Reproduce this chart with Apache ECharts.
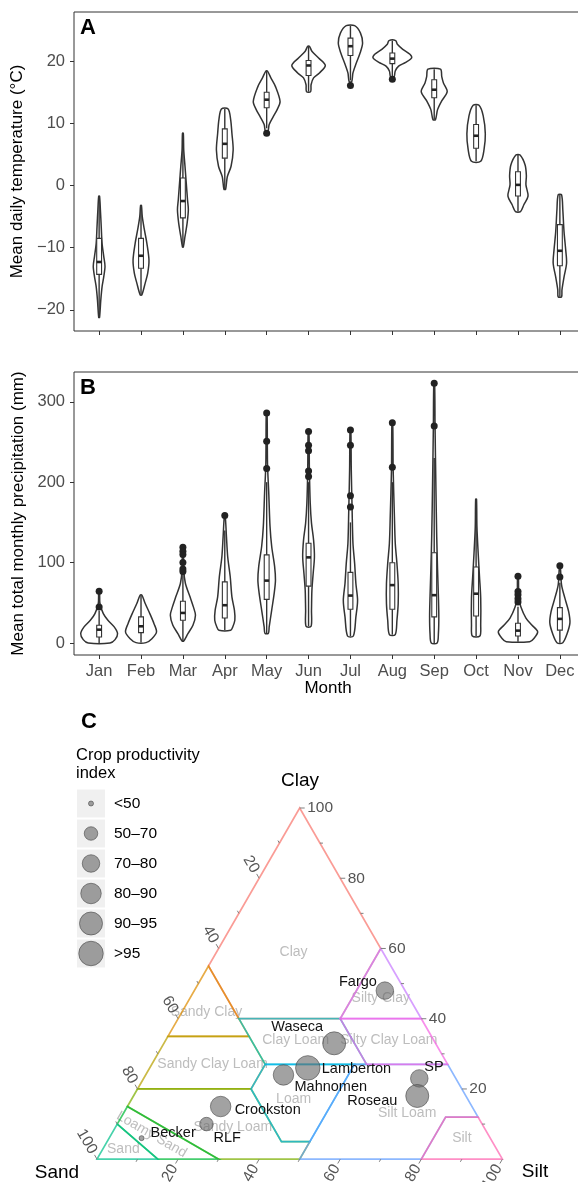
<!DOCTYPE html>
<html>
<head>
<meta charset="utf-8">
<script src="https://cdn.jsdelivr.net/npm/echarts@6/dist/echarts.min.js"></script>
<style>
  html, body { margin: 0; padding: 0; background: #fff; }
  #main { width: 578px; height: 1182px; }
</style>
</head>
<body>
<div id="main"></div>
<script>
// ---------- data ----------
const months = ['Jan', 'Feb', 'Mar', 'Apr', 'May', 'Jun', 'Jul', 'Aug', 'Sep', 'Oct', 'Nov', 'Dec'];

// A: violin outline (levels top -> bottom, half widths in month units)
const tempLevels = [
  [-1.7, -3.9, -6.6, -9.3, -11.4, -13.0, -14.7, -16.3, -18.4, -21.2],
  [-3.2, -5.0, -7.1, -9.3, -12.0, -14.1, -15.7, -17.6],
  [8.4, 5.7, 3.1, 0.4, -2.3, -3.9, -6.1, -8.2, -9.9],
  [12.3, 10.6, 8.4, 5.7, 3.1, 1.4, -0.6],
  [18.4, 17.3, 15.9, 13.5, 12.2, 11.1, 9.8, 8.7],
  [22.4, 21.6, 20.5, 19.3, 18.1, 17.3, 16.2, 15.1],
  [25.7, 24.5, 22.9, 21.3, 19.7, 18.1, 16.7],
  [23.3, 22.7, 21.9, 21.1, 20.5, 19.8, 19.2, 18.4, 17.4],
  [18.7, 17.5, 16.5, 15.1, 13.5, 12.2, 10.6],
  [12.9, 11.2, 8.3, 5.8, 3.9],
  [4.9, 3.3, 1.6, 0.1, -1.7, -3.1, -4.2],
  [-1.5, -3.9, -7.5, -10.4, -12.5, -14.7, -16.8, -17.9]
];
const tempWidths = [
  [0.01, 0.03, 0.05, 0.07, 0.11, 0.14, 0.11, 0.07, 0.04, 0.01],
  [0.01, 0.03, 0.08, 0.14, 0.19, 0.16, 0.10, 0.02],
  [0.01, 0.02, 0.05, 0.08, 0.11, 0.13, 0.10, 0.05, 0.01],
  [0.08, 0.14, 0.17, 0.20, 0.15, 0.06, 0.02],
  [0.02, 0.10, 0.21, 0.32, 0.25, 0.16, 0.06, 0.03],
  [0.02, 0.08, 0.24, 0.40, 0.26, 0.12, 0.06, 0.05],
  [0.10, 0.24, 0.29, 0.23, 0.14, 0.06, 0.03],
  [0.08, 0.12, 0.25, 0.42, 0.46, 0.32, 0.15, 0.07, 0.04],
  [0.15, 0.18, 0.22, 0.31, 0.17, 0.08, 0.03],
  [0.07, 0.17, 0.22, 0.19, 0.11],
  [0.05, 0.17, 0.20, 0.19, 0.24, 0.14, 0.06],
  [0.04, 0.07, 0.10, 0.14, 0.16, 0.10, 0.05, 0.04]
];
// [lower whisker, q1, median, q3, upper whisker]
const tempBoxes = [
  [-21.2, -14.3, -12.3, -8.5, -1.7],
  [-17.6, -13.3, -11.3, -8.5, -3.2],
  [-9.9, -5.2, -2.5, 1.2, 8.4],
  [-0.6, 4.4, 6.7, 9.1, 12.3],
  [9.2, 12.5, 13.8, 15.0, 18.4],
  [15.1, 17.7, 19.3, 20.1, 22.4],
  [16.9, 20.9, 22.4, 23.7, 25.7],
  [17.5, 19.6, 20.4, 21.3, 23.3],
  [10.6, 14.1, 15.4, 17.0, 18.7],
  [3.9, 6.0, 8.0, 9.8, 12.9],
  [-4.2, -1.7, 0.1, 2.2, 4.9],
  [-17.9, -12.9, -10.5, -6.3, -1.5]
];
const tempOutliers = [[5, 8.4], [7, 16.1], [8, 17.1]];

// B: precipitation
const precLevels = [
  [64.5, 49.1, 36.6, 28.3, 20.0, 11.7, 4.2, 0],
  [59.5, 49.1, 36.6, 24.1, 13.7, 5.4, 0.5],
  [118.6, 90.7, 74, 57.4, 44.9, 34.5, 22, 11.7, 2.5],
  [158.5, 132, 107, 82.4, 57.4, 40.8, 28.3, 20, 15.8],
  [286, 223, 186, 145, 120, 95, 78, 62, 41, 20, 12],
  [263, 215, 174, 149, 128, 107, 86.5, 65.7, 40.8, 20.8],
  [264.6, 215.5, 165.6, 124, 99, 74, 53, 32.5, 8.7],
  [273.8, 215.5, 157, 124, 99, 74, 49, 28.3, 10.4],
  [323, 270, 195, 132, 90.7, 57.4, 32.5, 11.7, 0],
  [179, 144.7, 111.3, 83.5, 55.8, 22.4, 8.7],
  [83, 56, 44.8, 31, 22.4, 14, 5.7, 1.7],
  [95.9, 72.4, 55.8, 39, 25, 11.2, 0.4]
];
const precWidths = [
  [0.01, 0.02, 0.10, 0.21, 0.36, 0.44, 0.38, 0.26],
  [0.02, 0.10, 0.21, 0.31, 0.37, 0.26, 0.12],
  [0.01, 0.02, 0.06, 0.17, 0.25, 0.30, 0.24, 0.12, 0.02],
  [0.01, 0.04, 0.07, 0.13, 0.17, 0.23, 0.24, 0.19, 0.14],
  [0.01, 0.02, 0.05, 0.08, 0.12, 0.19, 0.21, 0.18, 0.12, 0.06, 0.04],
  [0.01, 0.02, 0.04, 0.07, 0.12, 0.14, 0.11, 0.08, 0.07, 0.06],
  [0.01, 0.02, 0.04, 0.06, 0.10, 0.13, 0.17, 0.13, 0.07],
  [0.01, 0.02, 0.05, 0.07, 0.11, 0.14, 0.14, 0.11, 0.07],
  [0.01, 0.02, 0.04, 0.06, 0.08, 0.10, 0.11, 0.10, 0.07],
  [0.01, 0.02, 0.05, 0.08, 0.11, 0.11, 0.09],
  [0.01, 0.02, 0.07, 0.19, 0.33, 0.47, 0.38, 0.28],
  [0.01, 0.04, 0.12, 0.21, 0.24, 0.17, 0.07]
];
const precBoxes = [
  [0, 7.5, 16.6, 22, 40],
  [0.5, 12.9, 20.8, 32.5, 59.5],
  [2.5, 28.3, 37.4, 52, 86],
  [15.8, 31.2, 47, 76, 140],
  [12, 54.3, 77.6, 109.6, 200],
  [20.8, 70.7, 106.5, 124, 200],
  [8.7, 42, 59, 87.8, 150],
  [10.4, 42, 72, 99.9, 200],
  [0, 32.5, 59.5, 112.3, 230],
  [8.7, 33.6, 61.3, 94.6, 179],
  [1.7, 8.7, 15.4, 24.5, 45],
  [0.4, 16, 30, 44, 75]
];
const precOutliers = [
  [1, 64.5], [1, 44.9],
  [3, 119], [3, 114], [3, 110], [3, 100], [3, 92], [3, 89],
  [4, 158.5],
  [5, 286], [5, 251], [5, 217],
  [6, 263], [6, 246], [6, 239], [6, 214], [6, 207],
  [7, 265], [7, 246], [7, 183], [7, 169],
  [8, 274], [8, 218.5],
  [9, 323], [9, 270],
  [11, 83], [11, 64], [11, 60], [11, 55], [11, 51],
  [12, 96], [12, 82]
];
const tempTicks = [-20, -10, 0, 10, 20];
const precTicks = [0, 100, 200, 300];

// C: soil texture classes, vertices as [sand, silt, clay] %
const soilClasses = ['Clay', 'Sandy Clay', 'Sandy Clay Loam', 'Sandy Loam', 'Loamy Sand', 'Sand',
  'Clay Loam', 'Loam', 'Silt Loam', 'Silty Clay', 'Silty Clay Loam', 'Silt'];
const soilPolygons = [
  [[45, 15, 40], [20, 40, 40], [0, 40, 60], [0, 0, 100], [45, 0, 55]],
  [[65, 0, 35], [45, 20, 35], [45, 0, 55]],
  [[80, 0, 20], [52, 28, 20], [45, 28, 27], [45, 20, 35], [65, 0, 35]],
  [[85, 0, 15], [70, 30, 0], [50, 50, 0], [45, 50, 5], [52, 43, 5], [52, 28, 20], [80, 0, 20]],
  [[90, 0, 10], [85, 15, 0], [70, 30, 0], [85, 0, 15]],
  [[100, 0, 0], [85, 15, 0], [90, 0, 10]],
  [[45, 28, 27], [20, 53, 27], [20, 40, 40], [45, 15, 40]],
  [[45, 50, 5], [52, 43, 5], [52, 28, 20], [45, 28, 27], [23, 50, 27]],
  [[50, 50, 0], [20, 80, 0], [8, 80, 12], [0, 88, 12], [0, 73, 27], [23, 50, 27], [45, 50, 5]],
  [[20, 40, 40], [0, 60, 40], [0, 40, 60]],
  [[20, 53, 27], [0, 73, 27], [0, 60, 40], [20, 40, 40]],
  [[20, 80, 0], [0, 100, 0], [0, 88, 12], [8, 80, 12]]
];
const soilLabelPos = [
  [22, 19, 59], [52, 6, 42], [58, 15, 27], [62, 29, 9], [83, 10, 7], [92, 5, 3],
  [34, 32, 34], [43, 40, 17], [17, 70, 13], [7, 47, 46], [11, 55, 34], [7, 87, 6]
];
const ternTicks = [10, 20, 30, 40, 50, 60, 70, 80, 90, 100];
const ternLabels = [20, 40, 60, 80, 100];

const cpiClasses = ['<50', '50–70', '70–80', '80–90', '90–95', '>95'];
const sites = ['Fargo', 'Waseca', 'Lamberton', 'Mahnomen', 'SP', 'Roseau', 'Crookston', 'RLF', 'Becker'];
const siteSand = [5, 25, 35, 42, 9, 12, 62, 68, 86];
const siteSilt = [47, 42, 39, 34, 68, 70, 23, 22, 8];
const siteClay = [48, 33, 26, 24, 23, 18, 15, 10, 6];
const siteCpi = ['70–80', '90–95', '>95', '80–90', '70–80', '90–95', '80–90', '50–70', '<50'];

// ---------- styles ----------
const FONT = "'Liberation Sans', Arial, Helvetica, sans-serif";
const soilColors = ['#F8766D', '#DE8C00', '#B79F00', '#7CAE00', '#00BA38', '#00C08B',
  '#00BFC4', '#00B4F0', '#619CFF', '#C77CFF', '#F564E3', '#FF64B0'];
const cpiSizes = [5, 13.5, 17.5, 20.5, 23, 24.5];
const regionRotation = { 'Loamy Sand': -30 };
// label anchor relative to the point: [align, dx, dy]
const siteLabelStyle = [
  ['right', -8, -9], ['right', -11, -16], ['left', 14, 1], ['left', 11, 12], ['left', 5, -11],
  ['right', -20, 5], ['left', 14, 3], ['left', 7, 14], ['left', 9, -5]
];
const pointFill = 'rgba(105,105,105,0.62)';
const pointEdge = 'rgba(70,70,70,0.6)';

const toPlane = t => [t[1] + t[2] / 2, t[2]];
const minus = v => (v < 0 ? '\u2212' + Math.abs(v) : String(v));

function violinRenderer(levels, widths, boxes) {
  return function (params, api) {
    const k = api.value(0) - 1;
    const m = k + 1;
    const lv = levels[k], wd = widths[k], bx = boxes[k];
    const pts = [];
    for (let i = 0; i < lv.length; i++) pts.push(api.coord([m + wd[i], lv[i]]));
    for (let i = lv.length - 1; i >= 0; i--) pts.push(api.coord([m - wd[i], lv[i]]));
    const bw = 0.058;
    const c = (x, y) => api.coord([x, y]);
    const lo = c(m, bx[0]), q1 = c(m, bx[1]), q3 = c(m, bx[3]), hi = c(m, bx[4]);
    const bl = c(m - bw, bx[3]), br = c(m + bw, bx[1]);
    const ml = c(m - bw, bx[2]), mr = c(m + bw, bx[2]);
    const line = { stroke: '#333', lineWidth: 1.4 };
    return {
      type: 'group',
      children: [
        { type: 'polygon', shape: { points: pts, smooth: 0.3 }, style: { fill: '#fff', stroke: '#333', lineWidth: 1.5 } },
        { type: 'line', shape: { x1: lo[0], y1: lo[1], x2: q1[0], y2: q1[1] }, style: line },
        { type: 'line', shape: { x1: q3[0], y1: q3[1], x2: hi[0], y2: hi[1] }, style: line },
        { type: 'rect', shape: { x: bl[0], y: bl[1], width: br[0] - bl[0], height: br[1] - bl[1] },
          style: { fill: '#fff', stroke: '#333', lineWidth: 1.1 } },
        { type: 'line', shape: { x1: ml[0], y1: ml[1], x2: mr[0], y2: mr[1] }, style: { stroke: '#222', lineWidth: 2.6 } }
      ]
    };
  };
}

const monthAxis = (grid, showLabels) => ({
  type: 'value', gridIndex: grid, min: 0.4, max: 12.6,
  axisLine: { show: false, onZero: false },
  axisTick: { show: true, length: 4, customValues: months.map((m, i) => i + 1), lineStyle: { color: '#333' } },
  axisLabel: {
    show: showLabels, customValues: months.map((m, i) => i + 1), margin: 8,
    formatter: v => months[Math.round(v) - 1] || '', fontSize: 16.5, color: '#4d4d4d', fontFamily: FONT
  },
  splitLine: { show: false }
});
const valueAxis = (grid, min, max, ticks, name) => ({
  type: 'value', gridIndex: grid, min: min, max: max,
  name: name, nameLocation: 'middle', nameGap: 44,
  nameTextStyle: { fontSize: 17, color: '#000', fontFamily: FONT },
  axisLine: { show: false, onZero: false },
  axisTick: { show: true, length: 4, customValues: ticks, lineStyle: { color: '#333' } },
  axisLabel: { customValues: ticks, margin: 9, formatter: minus, fontSize: 16.5, color: '#4d4d4d', fontFamily: FONT },
  splitLine: { show: false }
});

// legend graphics
const legendEls = [
  { type: 'text', x: 76, y: 755, style: { text: 'Crop productivity', font: '16.5px ' + FONT, fill: '#000', verticalAlign: 'middle' } },
  { type: 'text', x: 76, y: 773, style: { text: 'index', font: '16.5px ' + FONT, fill: '#000', verticalAlign: 'middle' } }
];
cpiClasses.forEach((name, i) => {
  const cy = 803.5 + i * 30;
  legendEls.push({ type: 'rect', shape: { x: 77, y: cy - 14, width: 28, height: 28 }, style: { fill: '#f0f0f0' } });
  legendEls.push({ type: 'circle', shape: { cx: 91, cy: cy, r: cpiSizes[i] / 2 }, style: { fill: pointFill, stroke: pointEdge, lineWidth: 1 } });
  legendEls.push({ type: 'text', x: 114, y: cy, style: { text: name, font: '15.5px ' + FONT, fill: '#000', verticalAlign: 'middle' } });
});

const chart = echarts.init(document.getElementById('main'), null, { renderer: 'canvas' });

const option = {
  animation: false,
  backgroundColor: '#fff',
  textStyle: { fontFamily: FONT },
  grid: [
    { left: 74, top: 12, width: 511, height: 319, show: true, borderColor: '#333', borderWidth: 1, backgroundColor: '#fff', outerBoundsMode: 'none' },
    { left: 74, top: 372, width: 511, height: 283, show: true, borderColor: '#333', borderWidth: 1, backgroundColor: '#fff', outerBoundsMode: 'none' },
    { left: 97, top: 808, width: 405.4, height: 351.2, show: false, outerBoundsMode: 'none' }
  ],
  xAxis: [
    monthAxis(0, false),
    monthAxis(1, true),
    { type: 'value', gridIndex: 2, min: 0, max: 100, show: false }
  ],
  yAxis: [
    valueAxis(0, -23.4, 27.9, tempTicks, 'Mean daily temperature (°C)'),
    valueAxis(1, -14.9, 337, precTicks, 'Mean total monthly precipitation (mm)'),
    { type: 'value', gridIndex: 2, min: 0, max: 100, show: false }
  ],
  graphic: {
    elements: [
      { type: 'text', x: 80, y: 28, style: { text: 'A', font: 'bold 22px ' + FONT, fill: '#000', verticalAlign: 'middle' } },
      { type: 'text', x: 80, y: 388, style: { text: 'B', font: 'bold 22px ' + FONT, fill: '#000', verticalAlign: 'middle' } },
      { type: 'text', x: 81, y: 721.5, style: { text: 'C', font: 'bold 22px ' + FONT, fill: '#000', verticalAlign: 'middle' } },
      { type: 'text', x: 328, y: 688, style: { text: 'Month', font: '17px ' + FONT, fill: '#000', align: 'center', verticalAlign: 'middle' } },
      { type: 'text', x: 300, y: 781, style: { text: 'Clay', font: '19px ' + FONT, fill: '#000', align: 'center', verticalAlign: 'middle' } },
      { type: 'text', x: 57, y: 1173, style: { text: 'Sand', font: '19px ' + FONT, fill: '#000', align: 'center', verticalAlign: 'middle' } },
      { type: 'text', x: 535, y: 1172, style: { text: 'Silt', font: '19px ' + FONT, fill: '#000', align: 'center', verticalAlign: 'middle' } }
    ].concat(legendEls)
  },
  series: [
    {
      type: 'custom', xAxisIndex: 0, yAxisIndex: 0, clip: false,
      renderItem: violinRenderer(tempLevels, tempWidths, tempBoxes),
      data: months.map((m, i) => [i + 1, tempBoxes[i][2]])
    },
    {
      type: 'scatter', xAxisIndex: 0, yAxisIndex: 0, symbolSize: 7,
      itemStyle: { color: '#222', opacity: 1 }, data: tempOutliers, z: 3
    },
    {
      type: 'custom', xAxisIndex: 1, yAxisIndex: 1, clip: false,
      renderItem: violinRenderer(precLevels, precWidths, precBoxes),
      data: months.map((m, i) => [i + 1, precBoxes[i][2]])
    },
    {
      type: 'scatter', xAxisIndex: 1, yAxisIndex: 1, symbolSize: 7,
      itemStyle: { color: '#222', opacity: 1 }, data: precOutliers, z: 3
    },
    // region names
    {
      type: 'custom', xAxisIndex: 2, yAxisIndex: 2, clip: false, z: 1,
      data: soilClasses.map((s, i) => toPlane(soilLabelPos[i]).concat([i])),
      renderItem: function (params, api) {
        const i = api.value(2);
        const p = api.coord([api.value(0), api.value(1)]);
        const rot = regionRotation[soilClasses[i]] || 0;
        return {
          type: 'text', x: p[0], y: p[1], rotation: rot * Math.PI / 180,
          style: { text: soilClasses[i], font: '14px ' + FONT, fill: '#bdbdbd', align: 'center', verticalAlign: 'middle' }
        };
      }
    },
    // class boundaries
    {
      type: 'custom', xAxisIndex: 2, yAxisIndex: 2, clip: false, z: 2,
      data: soilClasses.map((s, i) => [i]),
      renderItem: function (params, api) {
        const i = api.value(0);
        const pts = soilPolygons[i].map(t => api.coord(toPlane(t)));
        return {
          type: 'polygon', shape: { points: pts },
          style: { fill: 'none', stroke: soilColors[i], lineWidth: 1.7, opacity: 0.72 }
        };
      }
    },
    // ternary ticks and tick labels
    {
      type: 'custom', xAxisIndex: 2, yAxisIndex: 2, clip: false, z: 2,
      data: ternTicks.map(t => [t]),
      renderItem: function (params, api) {
        const t = api.value(0);
        const major = ternLabels.indexOf(t) >= 0;
        const len = major ? 5 : 3;
        const edges = [
          { pt: [(100 - t) / 2, 100 - t], dir: [-0.5, -0.866], rot: -Math.PI / 3, align: 'right' },
          { pt: [100 - t / 2, t], dir: [1, 0], rot: 0, align: 'left' },
          { pt: [t, 0], dir: [-0.5, 0.866], rot: Math.PI / 3, align: 'right' }
        ];
        const children = [];
        edges.forEach(e => {
          const p = api.coord(e.pt);
          children.push({
            type: 'line',
            shape: { x1: p[0], y1: p[1], x2: p[0] + e.dir[0] * len, y2: p[1] + e.dir[1] * len },
            style: { stroke: '#7f7f7f', lineWidth: 1 }
          });
          if (major) {
            children.push({
              type: 'text', x: p[0] + e.dir[0] * (len + 2.5), y: p[1] + e.dir[1] * (len + 2.5), rotation: e.rot,
              style: { text: String(t), font: '15.5px ' + FONT, fill: '#555', align: e.align, verticalAlign: 'middle' }
            });
          }
        });
        return { type: 'group', children: children };
      }
    },
    // sites
    {
      type: 'scatter', xAxisIndex: 2, yAxisIndex: 2, z: 4,
      data: sites.map((s, i) => ({
        name: s,
        value: toPlane([siteSand[i], siteSilt[i], siteClay[i]]),
        symbolSize: cpiSizes[cpiClasses.indexOf(siteCpi[i])]
      })),
      itemStyle: { color: pointFill, borderColor: pointEdge, borderWidth: 1, opacity: 1 }
    },
    {
      type: 'custom', xAxisIndex: 2, yAxisIndex: 2, clip: false, z: 5,
      data: sites.map((s, i) => toPlane([siteSand[i], siteSilt[i], siteClay[i]]).concat([i])),
      renderItem: function (params, api) {
        const i = api.value(2);
        const p = api.coord([api.value(0), api.value(1)]);
        const st = siteLabelStyle[i];
        return {
          type: 'text', x: p[0] + st[1], y: p[1] + st[2],
          style: { text: sites[i], font: '14.5px ' + FONT, fill: '#111', align: st[0], verticalAlign: 'middle' }
        };
      }
    }
  ]
};

chart.setOption(option);
</script>
</body>
</html>
